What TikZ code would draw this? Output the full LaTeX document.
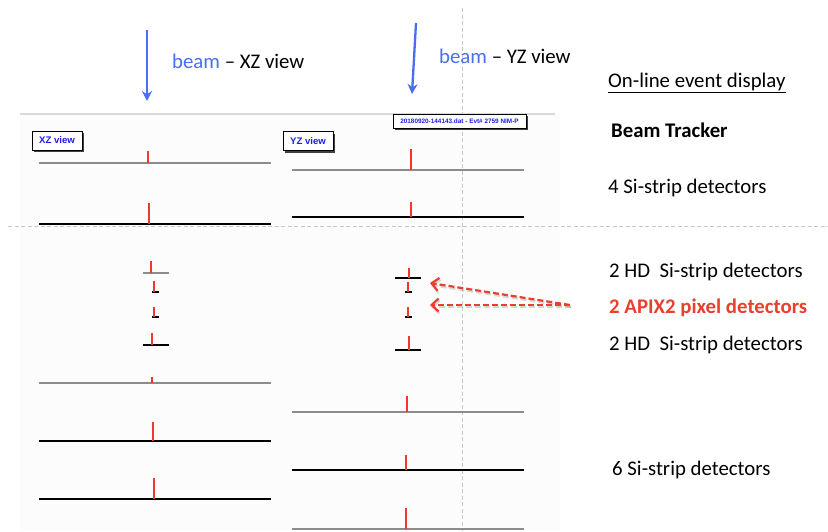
\documentclass[tikz,border=0pt]{standalone}
\usepackage{fontspec}
\setmainfont{Carlito}
\newfontfamily\helv{Liberation Sans}
\usetikzlibrary{arrows.meta,shadows}

\definecolor{beamblue}{HTML}{4A6EF2}
\definecolor{hitred}{HTML}{EE3A2E}
\definecolor{labred}{HTML}{E8402E}
\definecolor{boxblue}{HTML}{1E1EE6}
\definecolor{guide}{HTML}{C8C8C8}

% one detector plane: line style, x from, x to, y, hit x, hit top
\newcommand\drawplane[6]{%
  \draw[#1] (#2,#4) -- (#3,#4);
  \draw[hit] (#5,#4) -- (#5,#6);
}

\begin{document}
\begin{tikzpicture}[x=1pt,y=-1pt,
  planeG/.style={draw=black!45,line width=1.4pt},
  planeK/.style={draw=black,line width=1.4pt},
  hit/.style={draw=hitred,line width=1.7pt},
  txt/.style={font=\fontsize{20.8}{24}\selectfont,anchor=base west,inner sep=0pt},
  viewbox/.style={draw=black,line width=0.6pt,fill=white,inner sep=0pt,
    font=\helv\bfseries\fontsize{9.6}{11}\selectfont,text=boxblue,
    minimum width=50pt,minimum height=19pt,
    drop shadow={shadow xshift=2pt,shadow yshift=-2pt,fill=black!75,opacity=1}},
  beamarrow/.style={draw=beamblue,line width=2.3pt,-{Stealth[length=10pt,width=10pt]}},
  pointer/.style={draw=labred,line width=2.2pt,dash pattern=on 6pt off 3pt,
    -{Straight Barb[length=7pt,width=13pt,line width=2.2pt]}},
  guideline/.style={draw=guide,line width=0.9pt,dash pattern=on 4pt off 2.5pt}]

\useasboundingbox (0,0) rectangle (828,531);
\fill[white] (0,0) rectangle (828,531);

% event display panel
\fill[black!1] (20,114) rectangle (560,531);
\draw[black!15,line width=2.5pt] (20,114) -- (555,114);

% guide lines
\draw[guideline] (462,8) -- (462,531);
\draw[guideline] (8,226) -- (828,226);

% beam arrows and headings
\coordinate (bxz1) at (147,30);
\coordinate (bxz2) at (147,101);
\draw[beamarrow] (bxz1) -- (bxz2);
\node[txt] (hxz) at (172,68) {\textcolor{beamblue}{beam} – XZ view};

\coordinate (byz1) at (416,23);
\coordinate (byz2) at (412,94);
\draw[beamarrow] (byz1) -- (byz2);
\node[txt] (hyz) at (439,63) {\textcolor{beamblue}{beam} – YZ view};

\node[txt] (online) at (608,87) {On-line event display};
\draw[line width=1pt] ([yshift=-5pt]online.base west) -- ([yshift=-5pt]online.base east);

% display labels
\node[viewbox] (xzview) at (57,140.5) {XZ view};
\node[viewbox] (yzview) at (308,141) {YZ view};
\node[viewbox,minimum width=133pt,minimum height=14pt,
  font=\helv\bfseries\fontsize{6.4}{8}\selectfont] (evt) at (459.5,121)
  {20180920-144143.dat - Evt\# 2759 NIM-P};

% XZ view: beam tracker
\drawplane{planeG}{39}{271}{163}{148}{151}
\drawplane{planeK}{39}{271}{224}{149}{203}
% XZ view: HD strips and pixels
\drawplane{planeG}{143}{169}{273}{151}{261}
\drawplane{planeK}{152}{159}{292}{154}{281}
\drawplane{planeK}{152}{159}{317}{154}{307}
\drawplane{planeK}{143}{169}{345}{152}{333}
% XZ view: downstream strips
\drawplane{planeG}{39}{271}{383}{152}{377}
\drawplane{planeK}{39}{271}{441}{153}{422}
\drawplane{planeK}{39}{271}{499}{154}{478}

% YZ view: beam tracker
\drawplane{planeG}{292}{524}{170}{411}{149}
\drawplane{planeK}{292}{524}{217}{411}{202}
% YZ view: HD strips and pixels
\drawplane{planeK}{395}{421}{278}{409}{268}
\drawplane{planeK}{405}{412}{292}{408}{282}
\drawplane{planeK}{405}{412}{317}{408}{307}
\drawplane{planeK}{395}{421}{350}{409}{336}
% YZ view: downstream strips
\drawplane{planeG}{292}{524}{412}{407}{396}
\drawplane{planeK}{292}{524}{470}{406}{455}
\drawplane{planeG}{292}{524}{529}{406}{508}

% right-hand annotations
\node[txt,font=\fontsize{20.8}{24}\selectfont\bfseries] (tracker) at (611,137) {Beam Tracker};
\node[txt] (four) at (608,193) {4 Si-strip detectors};
\node[txt] (hd1) at (609,277) {2 HD\ \ Si-strip detectors};
\node[txt,font=\fontsize{20.8}{24}\selectfont\bfseries,text=labred] (apix) at (609,313) {2 APIX2 pixel detectors};
\node[txt] (hd2) at (609,350) {2 HD\ \ Si-strip detectors};
\node[txt] (six) at (612,475) {6 Si-strip detectors};

% pointers to the pixel planes
\coordinate (pfrom) at (570,305);
\coordinate (pix1) at (430,283);
\coordinate (pix2) at (430,305);
\begin{scope}[opacity=0.25,transform canvas={xshift=1pt,yshift=-2pt}]
  \draw[pointer,draw=black!60] (pfrom) -- (pix1);
  \draw[pointer,draw=black!60] (pfrom) -- (pix2);
\end{scope}
\draw[pointer] (pfrom) -- (pix1);
\draw[pointer] (pfrom) -- (pix2);
\end{tikzpicture}
\end{document}
